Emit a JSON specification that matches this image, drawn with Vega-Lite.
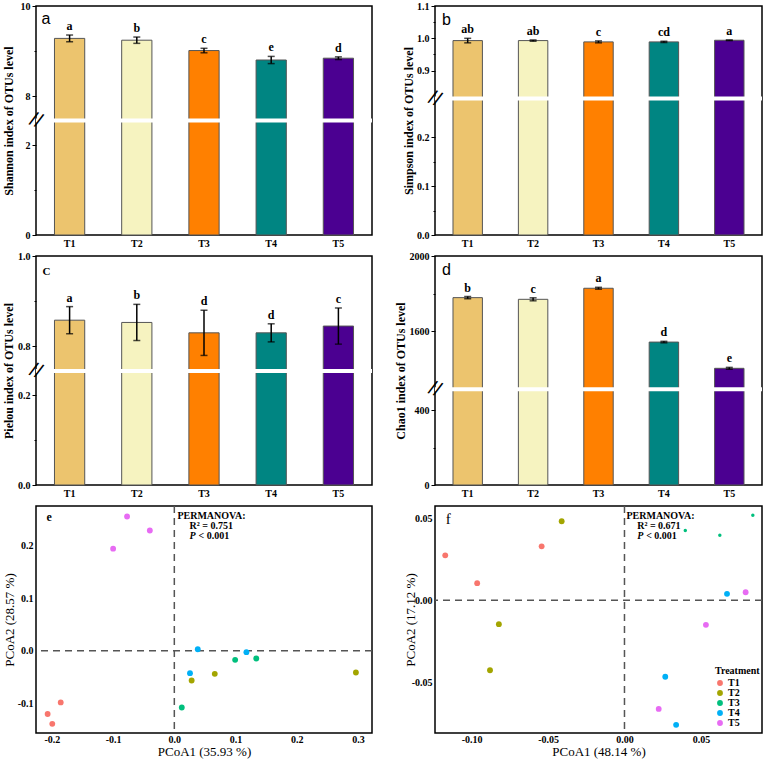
{
  "$schema": "https://vega.github.io/schema/vega-lite/v6.json",
  "padding": {"left": 1, "top": 0, "right": 5, "bottom": 2},
  "datasets": {
    "shannon": [
      {"Treatment": "T1", "mean": 9.28, "lo": 9.205, "hi": 9.355, "sig": "a"},
      {"Treatment": "T2", "mean": 9.24, "lo": 9.17, "hi": 9.31, "sig": "b"},
      {"Treatment": "T3", "mean": 9.01, "lo": 8.96, "hi": 9.06, "sig": "c"},
      {"Treatment": "T4", "mean": 8.80, "lo": 8.72, "hi": 8.88, "sig": "e"},
      {"Treatment": "T5", "mean": 8.84, "lo": 8.81, "hi": 8.87, "sig": "d"}
    ],
    "simpson": [
      {"Treatment": "T1", "mean": 0.993, "lo": 0.986, "hi": 1.000, "sig": "ab"},
      {"Treatment": "T2", "mean": 0.993, "lo": 0.991, "hi": 0.995, "sig": "ab"},
      {"Treatment": "T3", "mean": 0.989, "lo": 0.986, "hi": 0.992, "sig": "c"},
      {"Treatment": "T4", "mean": 0.989, "lo": 0.987, "hi": 0.991, "sig": "cd"},
      {"Treatment": "T5", "mean": 0.994, "lo": 0.993, "hi": 0.995, "sig": "a"}
    ],
    "pielou": [
      {"Treatment": "T1", "mean": 0.858, "lo": 0.828, "hi": 0.888, "sig": "a"},
      {"Treatment": "T2", "mean": 0.853, "lo": 0.813, "hi": 0.893, "sig": "b"},
      {"Treatment": "T3", "mean": 0.830, "lo": 0.780, "hi": 0.880, "sig": "d"},
      {"Treatment": "T4", "mean": 0.830, "lo": 0.810, "hi": 0.850, "sig": "d"},
      {"Treatment": "T5", "mean": 0.845, "lo": 0.805, "hi": 0.885, "sig": "c"}
    ],
    "chao": [
      {"Treatment": "T1", "mean": 1778, "lo": 1772, "hi": 1784, "sig": "b"},
      {"Treatment": "T2", "mean": 1769, "lo": 1761, "hi": 1777, "sig": "c"},
      {"Treatment": "T3", "mean": 1828, "lo": 1823, "hi": 1833, "sig": "a"},
      {"Treatment": "T4", "mean": 1541, "lo": 1537, "hi": 1545, "sig": "d"},
      {"Treatment": "T5", "mean": 1401, "lo": 1396, "hi": 1406, "sig": "e"}
    ],
    "pcoa_e": [
      {"Treatment": "T1", "PCoA1": -0.1856, "PCoA2": -0.098},
      {"Treatment": "T1", "PCoA1": -0.207, "PCoA2": -0.120},
      {"Treatment": "T1", "PCoA1": -0.1994, "PCoA2": -0.1386},
      {"Treatment": "T2", "PCoA1": 0.0661, "PCoA2": -0.0437},
      {"Treatment": "T2", "PCoA1": 0.0283, "PCoA2": -0.0563},
      {"Treatment": "T2", "PCoA1": 0.2967, "PCoA2": -0.0411},
      {"Treatment": "T3", "PCoA1": 0.0994, "PCoA2": -0.0171},
      {"Treatment": "T3", "PCoA1": 0.1339, "PCoA2": -0.0146},
      {"Treatment": "T3", "PCoA1": 0.0122, "PCoA2": -0.1076},
      {"Treatment": "T4", "PCoA1": 0.0383, "PCoA2": 0.003},
      {"Treatment": "T4", "PCoA1": 0.1178, "PCoA2": -0.0025},
      {"Treatment": "T4", "PCoA1": 0.0256, "PCoA2": -0.0424},
      {"Treatment": "T5", "PCoA1": -0.0772, "PCoA2": 0.255},
      {"Treatment": "T5", "PCoA1": -0.040, "PCoA2": 0.2285},
      {"Treatment": "T5", "PCoA1": -0.100, "PCoA2": 0.194}
    ],
    "pcoa_f": [
      {"Treatment": "T1", "PCoA1": -0.1173, "PCoA2": 0.0274},
      {"Treatment": "T1", "PCoA1": -0.0964, "PCoA2": 0.0104},
      {"Treatment": "T1", "PCoA1": -0.0542, "PCoA2": 0.0329},
      {"Treatment": "T2", "PCoA1": -0.0411, "PCoA2": 0.0482},
      {"Treatment": "T2", "PCoA1": -0.0822, "PCoA2": -0.0146},
      {"Treatment": "T2", "PCoA1": -0.088, "PCoA2": -0.0427},
      {"Treatment": "T3", "PCoA1": 0.0398, "PCoA2": 0.0425},
      {"Treatment": "T3", "PCoA1": 0.0624, "PCoA2": 0.0396},
      {"Treatment": "T3", "PCoA1": 0.084, "PCoA2": 0.0518},
      {"Treatment": "T4", "PCoA1": 0.0671, "PCoA2": 0.0039},
      {"Treatment": "T4", "PCoA1": 0.0267, "PCoA2": -0.0467},
      {"Treatment": "T4", "PCoA1": 0.0338, "PCoA2": -0.076},
      {"Treatment": "T5", "PCoA1": 0.0793, "PCoA2": 0.0049},
      {"Treatment": "T5", "PCoA1": 0.0533, "PCoA2": -0.015},
      {"Treatment": "T5", "PCoA1": 0.0224, "PCoA2": -0.0663}
    ]
  },
  "columns": 2,
  "bounds": "flush",
  "align": "each",
  "spacing": {"row": 21, "column": 63},
  "resolve": {"scale": {"color": "independent"}, "legend": {"color": "independent"}},
  "concat": [
    {
      "width": 336, "height": 229,
      "data": {"name": "shannon"},
      "layer": [
        {"mark": {"type": "bar", "stroke": "#555555", "strokeWidth": 1},
         "encoding": {
           "x": {"field": "Treatment", "type": "nominal", "scale": {"domain": ["T1", "T2", "T3", "T4", "T5"], "paddingInner": 0.55, "paddingOuter": 0.275}, "axis": {"title": null, "ticks": false, "labelAngle": 0, "labelPadding": 3}},
           "y": {"field": "mean", "type": "quantitative", "title": "Shannon index of OTUs level", "scale": {"domain": [0, 2.5, 7.5, 10], "range": [229, 116.5, 112.5, 0], "nice": false, "zero": false},
                 "axis": {"values": [0, 1, 2, 8, 9, 10], "tickCount": 20, "labelOverlap": false, "minExtent": 18, "maxExtent": 18, "format": "d", "labelExpr": "(datum.value == 1 || datum.value == 9) ? '' : datum.label", "tickSize": {"condition": {"test": "datum.value == 1 || datum.value == 9", "value": 2}, "value": 4}}},
           "fill": {"field": "Treatment", "type": "nominal", "scale": {"domain": ["T1", "T2", "T3", "T4", "T5"], "range": ["#ECC46E", "#F6F3C0", "#FF8000", "#008582", "#4B0091"]}, "legend": null}
         }},
        {"mark": {"type": "errorbar", "color": "black", "thickness": 1.5, "ticks": {"size": 7, "thickness": 1.5, "color": "black"}},
         "encoding": {"x": {"field": "Treatment", "type": "nominal"}, "y": {"field": "lo", "type": "quantitative", "title": "Shannon index of OTUs level"}, "y2": {"field": "hi"}}},
        {"mark": {"type": "text", "baseline": "bottom", "dy": -2, "fontWeight": "bold", "fontSize": 12, "font": "Liberation Serif"},
         "encoding": {"x": {"field": "Treatment", "type": "nominal"}, "y": {"field": "hi", "type": "quantitative", "title": "Shannon index of OTUs level"}, "text": {"field": "sig"}}},
        {"data": {"values": [{}]}, "mark": {"type": "rect", "color": "white"},
         "encoding": {"y": {"datum": 2.5, "type": "quantitative"}, "y2": {"datum": 7.5}}},
        {"data": {"values": [{}]}, "mark": {"type": "text", "text": "//", "font": "Liberation Sans", "fontSize": 20, "angle": 22},
         "encoding": {"x": {"value": 0}, "y": {"datum": 5, "type": "quantitative"}}},
        {"data": {"values": [{}]}, "mark": {"type": "text", "text": "a", "font": "Liberation Sans", "fontSize": 16, "align": "left", "baseline": "middle", "dx": -13},
         "encoding": {"x": {"datum": "T1", "bandPosition": 0}, "y": {"datum": 9.71, "type": "quantitative"}}}
      ]
    },
    {
      "width": 327, "height": 229,
      "data": {"name": "simpson"},
      "layer": [
        {"mark": {"type": "bar", "stroke": "#555555", "strokeWidth": 1},
         "encoding": {
           "x": {"field": "Treatment", "type": "nominal", "scale": {"domain": ["T1", "T2", "T3", "T4", "T5"], "paddingInner": 0.55, "paddingOuter": 0.275}, "axis": {"title": null, "ticks": false, "labelAngle": 0, "labelPadding": 3}},
           "y": {"field": "mean", "type": "quantitative", "title": "Simpson index of OTUs level", "scale": {"domain": [0, 0.275, 0.82, 1.1], "range": [229, 94.5, 90.5, 0], "nice": false, "zero": false},
                 "axis": {"values": [0, 0.05, 0.1, 0.15, 0.2, 0.9, 0.95, 1.0, 1.05, 1.1], "tickCount": 20, "labelOverlap": false, "format": ".1f", "labelExpr": "round(datum.value*100) % 10 != 0 ? '' : datum.label", "tickSize": {"condition": {"test": "round(datum.value*100) % 10 != 0", "value": 2}, "value": 4}}},
           "fill": {"field": "Treatment", "type": "nominal", "scale": {"domain": ["T1", "T2", "T3", "T4", "T5"], "range": ["#ECC46E", "#F6F3C0", "#FF8000", "#008582", "#4B0091"]}, "legend": null}
         }},
        {"mark": {"type": "errorbar", "color": "black", "thickness": 1.5, "ticks": {"size": 7, "thickness": 1.5, "color": "black"}},
         "encoding": {"x": {"field": "Treatment", "type": "nominal"}, "y": {"field": "lo", "type": "quantitative", "title": "Simpson index of OTUs level"}, "y2": {"field": "hi"}}},
        {"mark": {"type": "text", "baseline": "bottom", "dy": -2, "fontWeight": "bold", "fontSize": 12, "font": "Liberation Serif"},
         "encoding": {"x": {"field": "Treatment", "type": "nominal"}, "y": {"field": "hi", "type": "quantitative", "title": "Simpson index of OTUs level"}, "text": {"field": "sig"}}},
        {"data": {"values": [{}]}, "mark": {"type": "rect", "color": "white"},
         "encoding": {"y": {"datum": 0.275, "type": "quantitative"}, "y2": {"datum": 0.82}}},
        {"data": {"values": [{}]}, "mark": {"type": "text", "text": "//", "font": "Liberation Sans", "fontSize": 20, "angle": 22},
         "encoding": {"x": {"value": 0}, "y": {"datum": 0.5, "type": "quantitative"}}},
        {"data": {"values": [{}]}, "mark": {"type": "text", "text": "b", "font": "Liberation Sans", "fontSize": 16, "align": "left", "baseline": "middle", "dx": -11},
         "encoding": {"x": {"datum": "T1", "bandPosition": 0}, "y": {"datum": 1.058, "type": "quantitative"}}}
      ]
    },
    {
      "width": 336, "height": 229,
      "data": {"name": "pielou"},
      "layer": [
        {"mark": {"type": "bar", "stroke": "#555555", "strokeWidth": 1},
         "encoding": {
           "x": {"field": "Treatment", "type": "nominal", "scale": {"domain": ["T1", "T2", "T3", "T4", "T5"], "paddingInner": 0.55, "paddingOuter": 0.275}, "axis": {"title": null, "ticks": false, "labelAngle": 0, "labelPadding": 3}},
           "y": {"field": "mean", "type": "quantitative", "title": "Pielou index of OTUs level", "scale": {"domain": [0, 0.25, 0.75, 1.0], "range": [229, 117, 113, 0], "nice": false, "zero": false},
                 "axis": {"values": [0, 0.1, 0.2, 0.8, 0.9, 1.0], "tickCount": 20, "labelOverlap": false, "minExtent": 18, "maxExtent": 18, "format": ".1f", "labelExpr": "(round(datum.value*10) == 1 || round(datum.value*10) == 9) ? '' : datum.label", "tickSize": {"condition": {"test": "round(datum.value*10) == 1 || round(datum.value*10) == 9", "value": 2}, "value": 4}}},
           "fill": {"field": "Treatment", "type": "nominal", "scale": {"domain": ["T1", "T2", "T3", "T4", "T5"], "range": ["#ECC46E", "#F6F3C0", "#FF8000", "#008582", "#4B0091"]}, "legend": null}
         }},
        {"mark": {"type": "errorbar", "color": "black", "thickness": 1.5, "ticks": {"size": 7, "thickness": 1.5, "color": "black"}},
         "encoding": {"x": {"field": "Treatment", "type": "nominal"}, "y": {"field": "lo", "type": "quantitative", "title": "Pielou index of OTUs level"}, "y2": {"field": "hi"}}},
        {"mark": {"type": "text", "baseline": "bottom", "dy": -2, "fontWeight": "bold", "fontSize": 12, "font": "Liberation Serif"},
         "encoding": {"x": {"field": "Treatment", "type": "nominal"}, "y": {"field": "hi", "type": "quantitative", "title": "Pielou index of OTUs level"}, "text": {"field": "sig"}}},
        {"data": {"values": [{}]}, "mark": {"type": "rect", "color": "white"},
         "encoding": {"y": {"datum": 0.25, "type": "quantitative"}, "y2": {"datum": 0.75}}},
        {"data": {"values": [{}]}, "mark": {"type": "text", "text": "//", "font": "Liberation Sans", "fontSize": 20, "angle": 22},
         "encoding": {"x": {"value": 0}, "y": {"datum": 0.5, "type": "quantitative"}}},
        {"data": {"values": [{}]}, "mark": {"type": "text", "text": "C", "font": "Liberation Serif", "fontWeight": "bold", "fontSize": 11, "align": "left", "baseline": "middle", "dx": -12},
         "encoding": {"x": {"datum": "T1", "bandPosition": 0}, "y": {"datum": 0.9656, "type": "quantitative"}}}
      ]
    },
    {
      "width": 327, "height": 229,
      "data": {"name": "chao"},
      "layer": [
        {"mark": {"type": "bar", "stroke": "#555555", "strokeWidth": 1},
         "encoding": {
           "x": {"field": "Treatment", "type": "nominal", "scale": {"domain": ["T1", "T2", "T3", "T4", "T5"], "paddingInner": 0.55, "paddingOuter": 0.275}, "axis": {"title": null, "ticks": false, "labelAngle": 0, "labelPadding": 3}},
           "y": {"field": "mean", "type": "quantitative", "title": "Chao1 index of OTUs level", "scale": {"domain": [0, 500, 1300, 2000], "range": [229, 135.25, 131.25, 0], "nice": false, "zero": false},
                 "axis": {"values": [0, 200, 400, 1600, 1800, 2000], "tickCount": 20, "labelOverlap": false, "minExtent": 25, "maxExtent": 25, "format": "d", "labelExpr": "(datum.value == 200 || datum.value == 1800) ? '' : datum.label", "tickSize": {"condition": {"test": "datum.value == 200 || datum.value == 1800", "value": 2}, "value": 4}}},
           "fill": {"field": "Treatment", "type": "nominal", "scale": {"domain": ["T1", "T2", "T3", "T4", "T5"], "range": ["#ECC46E", "#F6F3C0", "#FF8000", "#008582", "#4B0091"]}, "legend": null}
         }},
        {"mark": {"type": "errorbar", "color": "black", "thickness": 1.5, "ticks": {"size": 7, "thickness": 1.5, "color": "black"}},
         "encoding": {"x": {"field": "Treatment", "type": "nominal"}, "y": {"field": "lo", "type": "quantitative", "title": "Chao1 index of OTUs level"}, "y2": {"field": "hi"}}},
        {"mark": {"type": "text", "baseline": "bottom", "dy": -2, "fontWeight": "bold", "fontSize": 12, "font": "Liberation Serif"},
         "encoding": {"x": {"field": "Treatment", "type": "nominal"}, "y": {"field": "hi", "type": "quantitative", "title": "Chao1 index of OTUs level"}, "text": {"field": "sig"}}},
        {"data": {"values": [{}]}, "mark": {"type": "rect", "color": "white"},
         "encoding": {"y": {"datum": 500, "type": "quantitative"}, "y2": {"datum": 1300}}},
        {"data": {"values": [{}]}, "mark": {"type": "text", "text": "//", "font": "Liberation Sans", "fontSize": 20, "angle": 22},
         "encoding": {"x": {"value": 0}, "y": {"datum": 900, "type": "quantitative"}}},
        {"data": {"values": [{}]}, "mark": {"type": "text", "text": "d", "font": "Liberation Sans", "fontSize": 16, "align": "left", "baseline": "middle", "dx": -11},
         "encoding": {"x": {"datum": "T1", "bandPosition": 0}, "y": {"datum": 1923, "type": "quantitative"}}}
      ]
    },
    {
      "width": 336, "height": 227,
      "layer": [
        {"data": {"values": [{}]}, "mark": {"type": "rule", "color": "#555555", "strokeDash": [7, 5], "strokeWidth": 1.5},
         "encoding": {"x": {"datum": 0, "type": "quantitative"}}},
        {"data": {"values": [{}]}, "mark": {"type": "rule", "color": "#555555", "strokeDash": [7, 5], "strokeWidth": 1.5},
         "encoding": {"y": {"datum": 0, "type": "quantitative"}}},
        {"data": {"name": "pcoa_e"}, "mark": {"type": "point", "filled": true, "size": 34, "opacity": 1},
         "encoding": {
           "x": {"field": "PCoA1", "type": "quantitative", "scale": {"domain": [-0.226, 0.323], "nice": false, "zero": false},
                 "axis": {"title": "PCoA1 (35.93 %)", "values": [-0.2, -0.1, 0, 0.1, 0.2, 0.3], "ticks": false, "labelPadding": 1, "labelExpr": "replace(format(datum.value, '.1f'), '\u2212', '-')", "titleFontWeight": "normal", "titleFontSize": 13, "titlePadding": 1}},
           "y": {"field": "PCoA2", "type": "quantitative", "scale": {"domain": [-0.156, 0.275], "nice": false, "zero": false},
                 "axis": {"title": "PCoA2 (28.57 %)", "values": [-0.1, 0, 0.1, 0.2], "ticks": false, "labelPadding": 3, "labelExpr": "replace(format(datum.value, '.1f'), '\u2212', '-')", "titleFontWeight": "normal", "titleFontSize": 13}},
           "color": {"field": "Treatment", "type": "nominal", "scale": {"domain": ["T1", "T2", "T3", "T4", "T5"], "range": ["#F8766D", "#A3A500", "#00BF7D", "#00B0F6", "#E76BF3"]}, "legend": null}
         }},
        {"data": {"values": [{}]}, "mark": {"type": "text", "text": "e", "font": "Liberation Serif", "fontWeight": "bold", "fontSize": 12, "align": "left", "baseline": "middle"},
         "encoding": {"x": {"datum": -0.209, "type": "quantitative"}, "y": {"datum": 0.2547, "type": "quantitative"}}},
        {"data": {"values": [{}]}, "mark": {"type": "text", "text": "PERMANOVA:", "font": "Liberation Serif", "fontWeight": "bold", "fontSize": 10, "align": "left", "baseline": "middle"},
         "encoding": {"x": {"datum": 0.005, "type": "quantitative"}, "y": {"datum": 0.2556, "type": "quantitative"}}},
        {"data": {"values": [{}]}, "mark": {"type": "text", "text": "R² = 0.751", "font": "Liberation Serif", "fontWeight": "bold", "fontSize": 10, "align": "left", "baseline": "middle"},
         "encoding": {"x": {"datum": 0.025, "type": "quantitative"}, "y": {"datum": 0.2366, "type": "quantitative"}}},
        {"data": {"values": [{}]}, "mark": {"type": "text", "text": "P", "font": "Liberation Serif", "fontWeight": "bold", "fontStyle": "italic", "fontSize": 10, "align": "left", "baseline": "middle"},
         "encoding": {"x": {"datum": 0.025, "type": "quantitative"}, "y": {"datum": 0.2176, "type": "quantitative"}}},
        {"data": {"values": [{}]}, "mark": {"type": "text", "text": "< 0.001", "font": "Liberation Serif", "fontWeight": "bold", "fontSize": 10, "align": "left", "baseline": "middle", "dx": 9},
         "encoding": {"x": {"datum": 0.025, "type": "quantitative"}, "y": {"datum": 0.2176, "type": "quantitative"}}}
      ]
    },
    {
      "width": 327, "height": 227,
      "layer": [
        {"data": {"values": [{}]}, "mark": {"type": "rule", "color": "#555555", "strokeDash": [7, 5], "strokeWidth": 1.5},
         "encoding": {"x": {"datum": 0, "type": "quantitative"}}},
        {"data": {"values": [{}]}, "mark": {"type": "rule", "color": "#555555", "strokeDash": [7, 5], "strokeWidth": 1.5},
         "encoding": {"y": {"datum": 0, "type": "quantitative"}}},
        {"data": {"name": "pcoa_f"}, "mark": {"type": "point", "filled": true, "opacity": 1},
         "encoding": {
           "x": {"field": "PCoA1", "type": "quantitative", "scale": {"domain": [-0.124, 0.090], "nice": false, "zero": false},
                 "axis": {"title": "PCoA1 (48.14 %)", "values": [-0.1, -0.05, 0, 0.05], "ticks": false, "labelPadding": 1, "labelExpr": "replace(format(datum.value, '.2f'), '\u2212', '-')", "titleFontWeight": "normal", "titleFontSize": 13, "titlePadding": 1}},
           "y": {"field": "PCoA2", "type": "quantitative", "scale": {"domain": [-0.081, 0.0575], "nice": false, "zero": false},
                 "axis": {"title": "PCoA2 (17.12 %)", "values": [-0.05, 0, 0.05], "ticks": false, "labelPadding": 3, "minExtent": 15, "maxExtent": 15, "labelExpr": "replace(format(datum.value, '.2f'), '\u2212', '-')", "titleFontWeight": "normal", "titleFontSize": 13}},
           "size": {"condition": {"test": "datum.Treatment === 'T3'", "value": 12}, "value": 34},
           "color": {"field": "Treatment", "type": "nominal", "scale": {"domain": ["T1", "T2", "T3", "T4", "T5"], "range": ["#F8766D", "#A3A500", "#00BF7D", "#00B0F6", "#E76BF3"]},
                     "legend": {"title": "Treatment", "orient": "none", "legendX": 280, "legendY": 160, "padding": 0, "titleFont": "Liberation Serif", "titleFontWeight": "bold", "titleFontSize": 10, "titleColor": "black", "titlePadding": 2, "labelFont": "Liberation Serif", "labelFontWeight": "bold", "labelFontSize": 10, "labelColor": "black", "labelOffset": 3, "symbolType": "circle", "symbolSize": 34, "symbolStrokeWidth": 0, "symbolOpacity": 1, "rowPadding": -1.5}}
         }},
        {"data": {"values": [{}]}, "mark": {"type": "text", "text": "f", "font": "Liberation Serif", "fontSize": 15, "align": "left", "baseline": "middle"},
         "encoding": {"x": {"datum": -0.117, "type": "quantitative"}, "y": {"datum": 0.0496, "type": "quantitative"}}},
        {"data": {"values": [{}]}, "mark": {"type": "text", "text": "PERMANOVA:", "font": "Liberation Serif", "fontWeight": "bold", "fontSize": 10, "align": "left", "baseline": "middle"},
         "encoding": {"x": {"datum": 0.0013, "type": "quantitative"}, "y": {"datum": 0.0516, "type": "quantitative"}}},
        {"data": {"values": [{}]}, "mark": {"type": "text", "text": "R² = 0.671", "font": "Liberation Serif", "fontWeight": "bold", "fontSize": 10, "align": "left", "baseline": "middle"},
         "encoding": {"x": {"datum": 0.0083, "type": "quantitative"}, "y": {"datum": 0.0455, "type": "quantitative"}}},
        {"data": {"values": [{}]}, "mark": {"type": "text", "text": "P", "font": "Liberation Serif", "fontWeight": "bold", "fontStyle": "italic", "fontSize": 10, "align": "left", "baseline": "middle"},
         "encoding": {"x": {"datum": 0.0083, "type": "quantitative"}, "y": {"datum": 0.0394, "type": "quantitative"}}},
        {"data": {"values": [{}]}, "mark": {"type": "text", "text": "< 0.001", "font": "Liberation Serif", "fontWeight": "bold", "fontSize": 10, "align": "left", "baseline": "middle", "dx": 9},
         "encoding": {"x": {"datum": 0.0083, "type": "quantitative"}, "y": {"datum": 0.0394, "type": "quantitative"}}}
      ]
    }
  ],
  "config": {
    "view": {"stroke": "black", "strokeWidth": 1.5},
    "axis": {"grid": false, "domain": false, "labelFont": "Liberation Serif", "labelFontWeight": "bold", "labelFontSize": 10, "labelColor": "black", "titleFont": "Liberation Serif", "titleFontWeight": "bold", "titleFontSize": 12, "titleColor": "black", "tickColor": "black", "tickWidth": 1, "tickSize": 4, "labelPadding": 2},
    "axisY": {"minExtent": 17, "maxExtent": 17, "titlePadding": 3},
    "text": {"font": "Liberation Serif", "color": "black"}
  }
}
